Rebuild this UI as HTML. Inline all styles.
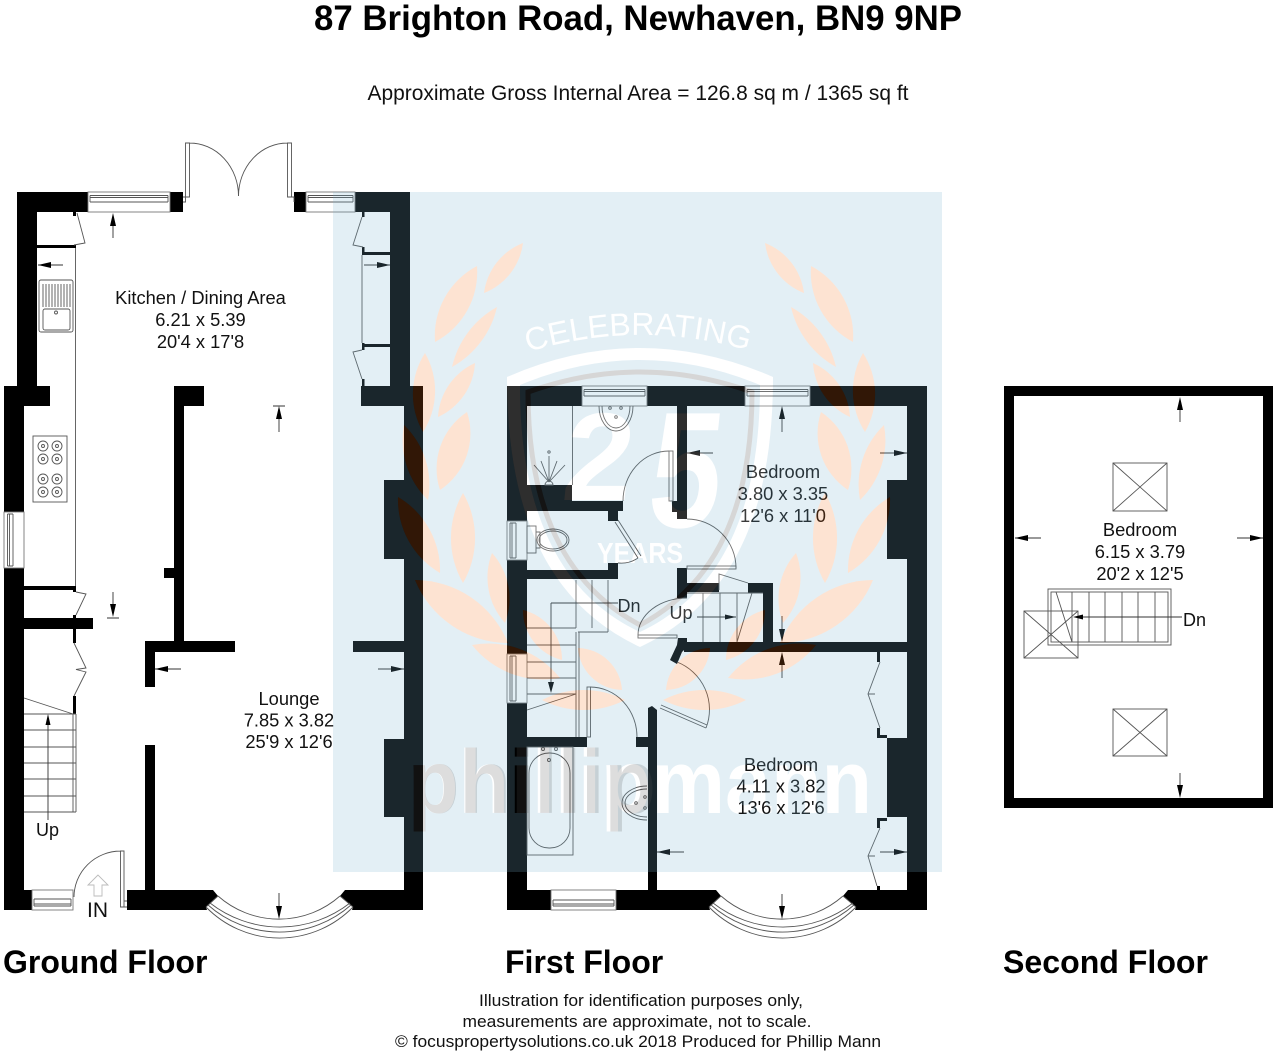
<!DOCTYPE html>
<html>
<head>
<meta charset="utf-8">
<title>87 Brighton Road, Newhaven, BN9 9NP</title>
<style>
html,body{margin:0;padding:0;background:#fff}
svg{display:block}
text{font-family:"Liberation Sans",Arial,sans-serif;fill:#111}
.l{font-size:18.3px;text-anchor:middle}
.f{font-size:32px;font-weight:bold;fill:#000}
.d path,.d rect,.d circle,.d ellipse,.d line,.d polyline{fill:none;stroke:#555;stroke-width:.9}
.w{fill:#fff!important;stroke:#777!important}
.a{fill:#000;stroke:none}
.al{stroke:#333;stroke-width:.9;fill:none}
</style>
</head>
<body>
<svg xmlns="http://www.w3.org/2000/svg" width="1280" height="1056" viewBox="0 0 1280 1056">
<defs>
<g id="laurel">
<path d="M523 243A62 62 0 0 1 484 293A62 62 0 0 1 523 243Z"/>
<path d="M477 266A79 79 0 0 1 435 342A79 79 0 0 1 477 266Z"/>
<path d="M497 307A92 92 0 0 1 452 367A92 92 0 0 1 497 307Z"/>
<path d="M475 363A63 63 0 0 1 438 417A63 63 0 0 1 475 363Z"/>
<path d="M425 353A76 76 0 0 1 423 432A76 76 0 0 1 425 353Z"/>
<path d="M467 412A68 68 0 0 1 440 490A68 68 0 0 1 467 412Z"/>
<path d="M404 425A83 83 0 0 1 428 500A83 83 0 0 1 404 425Z"/>
<path d="M398 497A85 85 0 0 1 440 573A85 85 0 0 1 398 497Z"/>
<path d="M463 493A90 90 0 0 1 463 583A90 90 0 0 1 463 493Z"/>
<path d="M492 553A68 68 0 0 1 505 623A68 68 0 0 1 492 553Z"/>
<path d="M415 580A101 101 0 0 1 508 643A101 101 0 0 1 415 580Z"/>
<path d="M523 610A51 51 0 0 1 562 660A51 51 0 0 1 523 610Z"/>
<path d="M472 645A91 91 0 0 1 560 678A91 91 0 0 1 472 645Z"/>
<path d="M542 700A91 91 0 0 1 625 700A91 91 0 0 1 542 700Z"/>
<path d="M578 648A45 45 0 0 1 622 690A45 45 0 0 1 578 648Z"/>
</g>
<g id="crest">
<path fill-rule="evenodd" d="M507 377Q640 319 773 377C773 500 740 600 640 647C540 600 507 500 507 377ZM520 385Q640 335 760 385C760 495 730 590 640 632C550 590 520 495 520 385Z"/>
<text transform="translate(560,500) skewX(-6)" style="fill:inherit;font-size:125px;font-weight:bold">2</text>
<text transform="translate(645,527) skewX(-6) scale(.92,1.18)" style="fill:inherit;font-size:140px;font-weight:bold">5</text>
</g>
<path id="arcT" d="M528 352Q640 318 754 352"/>
<clipPath id="cp"><rect x="333" y="192" width="609" height="680"/></clipPath>
<mask id="m" maskUnits="userSpaceOnUse" x="333" y="192" width="609" height="680">
<rect x="333" y="192" width="609" height="680" fill="#fff"/>
<g fill="#000">
<use href="#laurel"/>
<use href="#laurel" transform="translate(1288,0) scale(-1,1)"/>
<use href="#crest"/>
<text style="fill:#000;font-size:32px"><textPath href="#arcT">CELEBRATING</textPath></text>
<text x="597" y="563" textLength="86" lengthAdjust="spacingAndGlyphs" style="fill:#000;font-size:29px;font-weight:bold">YEARS</text>
<text x="408" y="813" textLength="464" lengthAdjust="spacingAndGlyphs" style="fill:#000;font-size:90px;font-weight:bold">phillipmann</text>
</g>
<path d="M528 392Q640 352 752 392C752 490 725 580 640 625C555 580 528 490 528 392Z" fill="none" stroke="#000" stroke-width="5"/>
</mask>
</defs>

<rect width="1280" height="1056" fill="#fff"/>

<!-- headings -->
<text x="638" y="30" text-anchor="middle" textLength="648" lengthAdjust="spacingAndGlyphs" style="font-size:35px;font-weight:bold;fill:#000">87 Brighton Road, Newhaven, BN9 9NP</text>
<text x="638" y="100" text-anchor="middle" textLength="541" lengthAdjust="spacingAndGlyphs" style="font-size:21px">Approximate Gross Internal Area = 126.8 sq m / 1365 sq ft</text>
<text class="f" x="3" y="973">Ground Floor</text>
<text class="f" x="505" y="973">First Floor</text>
<text class="f" x="1003" y="973" textLength="205" lengthAdjust="spacingAndGlyphs">Second Floor</text>
<text x="641" y="1006" text-anchor="middle" textLength="324" lengthAdjust="spacingAndGlyphs" style="font-size:17px">Illustration for identification purposes only,</text>
<text x="637" y="1027" text-anchor="middle" textLength="349" lengthAdjust="spacingAndGlyphs" style="font-size:17px">measurements are approximate, not to scale.</text>
<text x="638" y="1047" text-anchor="middle" textLength="486" lengthAdjust="spacingAndGlyphs" style="font-size:17px">© focuspropertysolutions.co.uk 2018 Produced for Phillip Mann</text>

<!-- walls ground floor -->
<g fill="#000">
<rect x="17" y="192" width="71" height="20"/>
<rect x="170" y="192" width="13" height="20"/>
<rect x="294" y="192" width="12" height="20"/>
<rect x="355" y="192" width="55" height="20"/>
<rect x="17" y="192" width="20" height="194"/>
<rect x="4" y="386" width="46" height="20"/>
<rect x="4" y="386" width="20" height="126"/>
<rect x="4" y="568" width="20" height="342"/>
<rect x="4" y="890" width="28" height="20"/>
<path d="M127 890H213L218 896L206 907L207 910H127Z"/>
<path d="M423 910H352L353 907L340 896L345 890H423Z"/>
<rect x="390" y="192" width="20" height="194"/>
<rect x="361" y="386" width="62" height="20"/>
<rect x="404" y="386" width="19" height="524"/>
<rect x="384" y="480" width="20" height="79"/>
<rect x="384" y="739" width="20" height="78"/>
<rect x="362" y="252" width="28" height="3"/>
<rect x="362" y="344" width="28" height="3"/>
<rect x="362" y="212" width="2.500" height="5"/>
<rect x="362" y="247" width="2.500" height="6"/>
<rect x="362" y="343" width="2.500" height="7"/>
<rect x="362" y="379" width="2.500" height="7"/>
<rect x="37" y="245" width="39" height="3"/>
<rect x="73" y="212" width="3" height="4"/>
<rect x="174" y="386" width="10" height="264"/>
<rect x="174" y="386" width="30" height="20"/>
<rect x="164" y="568" width="10" height="10"/>
<rect x="145" y="641" width="90" height="11"/>
<rect x="145" y="641" width="10" height="46"/>
<rect x="145" y="745" width="10" height="146"/>
<rect x="353" y="641" width="51" height="11"/>
<rect x="24" y="586" width="52" height="4"/>
<rect x="24" y="618" width="69" height="11"/>
<rect x="73" y="586" width="3" height="6"/>
<rect x="73" y="615" width="3" height="28"/>
<rect x="73" y="696" width="3" height="18"/>
</g>

<!-- walls first floor -->
<g fill="#000">
<rect x="507" y="386" width="75" height="20"/>
<rect x="647" y="386" width="98" height="20"/>
<rect x="810" y="386" width="117" height="20"/>
<rect x="507" y="386" width="20" height="135"/>
<rect x="507" y="560" width="20" height="94"/>
<rect x="507" y="703" width="20" height="207"/>
<rect x="507" y="890" width="44" height="20"/>
<path d="M616 890H716L721 896L709 907L710 910H616Z"/>
<path d="M927 910H855L856 907L843 896L848 890H927Z"/>
<rect x="907" y="386" width="20" height="524"/>
<rect x="887" y="480" width="20" height="79"/>
<rect x="887" y="738" width="20" height="79"/>
<rect x="677" y="406" width="10" height="113"/>
<rect x="672" y="501" width="5" height="11"/>
<rect x="527" y="501" width="96" height="10"/>
<rect x="527" y="485" width="45" height="26"/>
<rect x="608" y="511" width="10" height="10"/>
<rect x="527" y="570" width="91" height="9"/>
<rect x="608" y="563" width="10" height="8"/>
<rect x="677" y="568" width="10" height="30"/>
<rect x="677" y="583" width="42" height="9"/>
<rect x="748" y="583" width="25" height="10"/>
<rect x="763" y="583" width="10" height="60"/>
<rect x="684" y="642" width="223" height="10"/>
<path d="M678 638H687V647L682 652L677 664L670 660L677 645Z"/>
<rect x="527" y="737" width="60" height="10"/>
<rect x="636" y="737" width="12" height="10"/>
<path d="M648 708L652 706L657 710V890H648Z"/>
<rect x="877" y="652" width="3" height="10"/>
<rect x="877" y="728" width="3" height="10"/>
<rect x="877" y="735" width="10" height="3"/>
<rect x="877" y="818" width="3" height="10"/>
<rect x="877" y="818" width="10" height="3"/>
<rect x="877" y="886" width="3" height="4"/>
</g>

<!-- walls second floor -->
<path fill="#000" fill-rule="evenodd" d="M1004 386H1273V808H1004ZM1014 396V798H1263V396Z"/>

<!-- details -->
<g class="d">
<!-- windows ground -->
<rect class="w" x="88" y="192" width="82" height="20"/>
<path d="M90 195.500H168M90 202H168M90 197.500H168M90 195.500V202M168 195.500V202"/>
<rect class="w" x="306" y="192" width="49" height="20"/>
<path d="M308 195.500H353M308 202H353M308 197.500H353M308 195.500V202M353 195.500V202"/>
<rect class="w" x="4" y="512" width="20" height="56"/>
<path d="M7.500 514V566M13 514V566M9.500 514V566M7.500 514H13M7.500 566H13"/>
<rect class="w" x="32" y="890" width="41" height="20"/>
<path d="M34 899H71M34 906H71M34 904H71M34 899V906M71 899V906"/>
<!-- french doors -->
<path d="M185.500 143H189.500V197H185.500ZM183 197H185.500V202H183M189.500 143A49 53 0 0 1 238.500 196"/>
<path d="M287.500 143H291.500V197H287.500ZM291.500 197H294V202M287.500 143A49 53 0 0 0 238.500 196"/>
<!-- entry door -->
<path d="M120.500 851H124V907H120.500ZM120.500 851A47 46 0 0 0 74 897M124 901H127M124 907H127"/>
<path d="M98 875L88 885H94V896H102V885H108Z" style="stroke:#bbb"/>
<!-- counter lines -->
<path d="M75.500 248V586"/>
<!-- sink -->
<rect x="39" y="280" width="34" height="52" rx="2"/>
<path d="M43 284V307M46 284V307M49 284V307M52 284V307M55 284V307M58 284V307M61 284V307M64 284V307M67 284V307M70 284V307"/>
<rect x="43" y="309" width="27" height="21" rx="2"/>
<circle cx="56" cy="312.500" r="1.500"/>
<!-- hob -->
<rect x="33" y="436" width="34" height="66"/>
<circle cx="43" cy="446" r="5"/><circle cx="57" cy="446" r="5"/><circle cx="43" cy="459" r="5"/><circle cx="57" cy="459" r="5"/>
<circle cx="43" cy="479" r="5"/><circle cx="57" cy="479" r="5"/><circle cx="43" cy="492" r="5"/><circle cx="57" cy="492" r="5"/>
<circle cx="43" cy="446" r="1.500"/><circle cx="57" cy="446" r="1.500"/><circle cx="43" cy="459" r="1.500"/><circle cx="57" cy="459" r="1.500"/>
<circle cx="43" cy="479" r="1.500"/><circle cx="57" cy="479" r="1.500"/><circle cx="43" cy="492" r="1.500"/><circle cx="57" cy="492" r="1.500"/>
<!-- cupboard doors ground -->
<path d="M77 213L85 243L74 245"/>
<path d="M362 217L353 245L363 247M362 350L353 352L362 379M362 255V343"/>
<path d="M76 592L86 594L76 615M74 643L86 668L76 669.500L86 672L74 696"/>
<!-- ground stairs -->
<path d="M24 698L73 714M24 714H76M24 730H76M24 747H76M24 763H76M24 779H76M24 796H76M24 812H76M73 714V812M76 714V812"/>
<!-- ground bay + first bay -->
<path d="M218 896A92 92 0 0 0 340 896M210 903A114 114 0 0 0 350 903M208 905A108 108 0 0 0 351 905M206 907A102.600 102.600 0 0 0 353 907M218 896L206 907M340 896L353 907"/>
<path d="M721 896A92 92 0 0 0 843 896M713 903A114 114 0 0 0 853 903M711 905A108 108 0 0 0 854 905M709 907A102.600 102.600 0 0 0 856 907M721 896L709 907M843 896L856 907"/>
<!-- first windows -->
<rect class="w" x="582" y="386" width="65" height="20"/>
<path d="M584 389.500H645M584 396H645M584 391.500H645M584 389.500V396M645 389.500V396"/>
<rect class="w" x="745" y="386" width="65" height="20"/>
<path d="M747 389.500H808M747 396H808M747 391.500H808M747 389.500V396M808 389.500V396"/>
<rect class="w" x="507" y="521" width="20" height="39"/>
<path d="M510 523V558M516 523V558M512 523V558M510 523H516M510 558H516"/>
<rect class="w" x="507" y="654" width="20" height="49"/>
<path d="M510 656V701M516 656V701M512 656V701M510 656H516M510 701H516"/>
<rect class="w" x="551" y="890" width="65" height="20"/>
<path d="M553 900H614M553 906H614M553 904H614M553 900V906M614 900V906"/>
<!-- shower -->
<path d="M572.500 406V485M549 482V456M549 482L534 465M549 482L541 461M549 482L557 461M549 482L565 465M545 485A4 4 0 0 1 553 485H545Z"/>
<circle cx="549" cy="452" r="1.200"/>
<!-- ensuite basin -->
<path d="M599 406A17 25 0 0 0 633 406M602 406A14 22 0 0 0 630 406"/>
<circle cx="610" cy="408" r="1.300"/><circle cx="621" cy="408" r="1.300"/><circle cx="616" cy="417" r="1.300"/>
<!-- toilet -->
<rect x="527" y="526" width="9" height="27"/>
<path d="M536 532H540V548H536"/>
<ellipse cx="553" cy="540" rx="16" ry="11"/>
<ellipse cx="553" cy="540" rx="14" ry="9"/>
<!-- doors first -->
<rect x="669" y="451" width="4" height="50"/>
<path d="M669 451A46 50 0 0 0 623 501"/>
<path d="M615 522L638 558M618 520L641 556M638 558A30 30 0 0 1 618 563M618 563"/>
<rect x="687" y="566" width="49" height="3"/>
<path d="M687 519A49 49 0 0 1 736 568"/>
<rect x="638" y="635" width="39" height="3"/>
<path d="M687 598A49 37 0 0 0 638 635"/>
<!-- up stairs -->
<path d="M687 593H763M703 593V642M720 593V642M737 593V642M752 593L737 642M719 590V574L748 583"/>
<!-- main stairs -->
<path d="M576 580V628M592 580V628M608 580V632M578 632H608M527 628H576M527 645H576M527 662H576M527 678H576M527 694H576M576 632V737M579 632V737M527 710L576 694"/>
<rect x="587" y="687" width="3.500" height="50"/>
<path d="M590 687A47 50 0 0 1 637 737"/>
<!-- lower bedroom door -->
<path d="M660 708L706 728M661 705L707 725M677 662A51 51 0 0 1 706 728"/>
<!-- bath -->
<rect x="527" y="747" width="46" height="108"/>
<rect x="529" y="753" width="41" height="95" rx="20"/>
<circle cx="543" cy="749" r="1.500"/><circle cx="556" cy="749" r="1.500"/><circle cx="549" cy="760" r="1.500"/>
<!-- bath basin -->
<path d="M647 786A25 17 0 0 0 647 820M647 789A22 14 0 0 0 647 817"/>
<circle cx="645" cy="797" r="1.300"/><circle cx="645" cy="808" r="1.300"/><circle cx="636" cy="803" r="1.300"/>
<!-- closets bedroom -->
<path d="M880 662L868 694L880 728M868 694H875M880 828L868 856L877 886M868 856H875"/>
<!-- second floor -->
<rect x="1113" y="463" width="54" height="48"/><path d="M1113 463L1167 511M1167 463L1113 511"/>
<rect x="1113" y="709" width="54" height="47"/><path d="M1113 709L1167 756M1167 709L1113 756"/>
<rect x="1024" y="611" width="54" height="47"/><path d="M1024 611L1078 658M1078 611L1024 658"/>
<rect x="1048" y="589" width="123" height="56"/>
<rect x="1051" y="592" width="117" height="50"/>
<path d="M1072 592V642M1089 592V642M1105 592V642M1122 592V642M1138 592V642M1155 592V642M1056 592L1072 642"/>
</g>

<!-- arrows -->
<g class="al">
<path d="M113 238V222M38 265H63M364 265H390M279 432V416M273 406H285M113 592V607M107 618H119M155 669H181M378 669H404M279 893V909"/>
<path d="M48 820V724M687 453H713M880 453H907M782 432V416M782 616V632M782 678V662M657 852H684M880 852H907M782 894V909"/>
<path d="M551 603V683M551 603H618M697 617H736"/>
<path d="M1180 422V407M1015 538H1041M1237 538H1263M1180 773V788M1083 617H1182"/>
</g>
<g class="a">
<path d="M113 213L110 226H116Z"/><path d="M38 265L51 262V268Z"/><path d="M390 265L377 262V268Z"/>
<path d="M279 406L276 419H282Z"/><path d="M113 617L110 604H116Z"/><path d="M155 669L168 666V672Z"/>
<path d="M404 669L391 666V672Z"/><path d="M279 919L276 906H282Z"/><path d="M48 714L45.500 725H50.500Z"/>
<path d="M687 453L700 450V456Z"/><path d="M907 453L894 450V456Z"/><path d="M782 406L779 419H785Z"/>
<path d="M782 642L779 629H785Z"/><path d="M782 652L779 665H785Z"/><path d="M657 852L670 849V855Z"/>
<path d="M907 852L894 849V855Z"/><path d="M782 919L779 906H785Z"/><path d="M551 693L548 682H554Z"/>
<path d="M736 617L725 614.500V619.500Z"/>
<path d="M1180 397L1177 410H1183Z"/><path d="M1015 538L1028 535V541Z"/><path d="M1263 538L1250 535V541Z"/>
<path d="M1180 798L1177 785H1183Z"/><path d="M1073 617L1083 614.500V619.500Z"/>
</g>

<!-- labels -->
<text class="l" x="200.500" y="304">Kitchen / Dining Area</text>
<text class="l" x="200.500" y="326">6.21 x 5.39</text>
<text class="l" x="200.500" y="348">20'4 x 17'8</text>
<text class="l" x="289" y="705">Lounge</text>
<text class="l" x="289" y="726.500">7.85 x 3.82</text>
<text class="l" x="289" y="748">25'9 x 12'6</text>
<text x="36" y="836" style="font-size:18px">Up</text>
<text x="87" y="917" style="font-size:21px">IN</text>
<text class="l" x="783" y="478">Bedroom</text>
<text class="l" x="783" y="500">3.80 x 3.35</text>
<text class="l" x="783" y="522">12'6 x 11'0</text>
<text class="l" x="781" y="771">Bedroom</text>
<text class="l" x="781" y="792.500">4.11 x 3.82</text>
<text class="l" x="781" y="814">13'6 x 12'6</text>
<text x="617.500" y="612" style="font-size:18px">Dn</text>
<text x="669.500" y="619" style="font-size:18px">Up</text>
<text class="l" x="1140" y="536">Bedroom</text>
<text class="l" x="1140" y="558">6.15 x 3.79</text>
<text class="l" x="1140" y="580">20'2 x 12'5</text>
<text x="1183" y="626" style="font-size:18px">Dn</text>

<!-- watermark overlay -->
<rect x="333" y="192" width="609" height="680" fill="#7cb5d2" fill-opacity=".21" mask="url(#m)"/>
<g clip-path="url(#cp)">
<g fill="#f57320" fill-opacity=".2">
<use href="#laurel"/>
<use href="#laurel" transform="translate(1288,0) scale(-1,1)"/>
</g>
<g fill="#fff" fill-opacity=".18"><use href="#crest"/></g>
<path d="M528 392Q640 352 752 392C752 490 725 580 640 625C555 580 528 490 528 392Z" fill="none" stroke="#535353" stroke-opacity=".24" stroke-width="5"/>
<text x="408" y="813" textLength="248" lengthAdjust="spacingAndGlyphs" style="fill:#535353;fill-opacity:.2;font-size:90px;font-weight:bold">phillip</text>
</g>
</svg>
</body>
</html>
